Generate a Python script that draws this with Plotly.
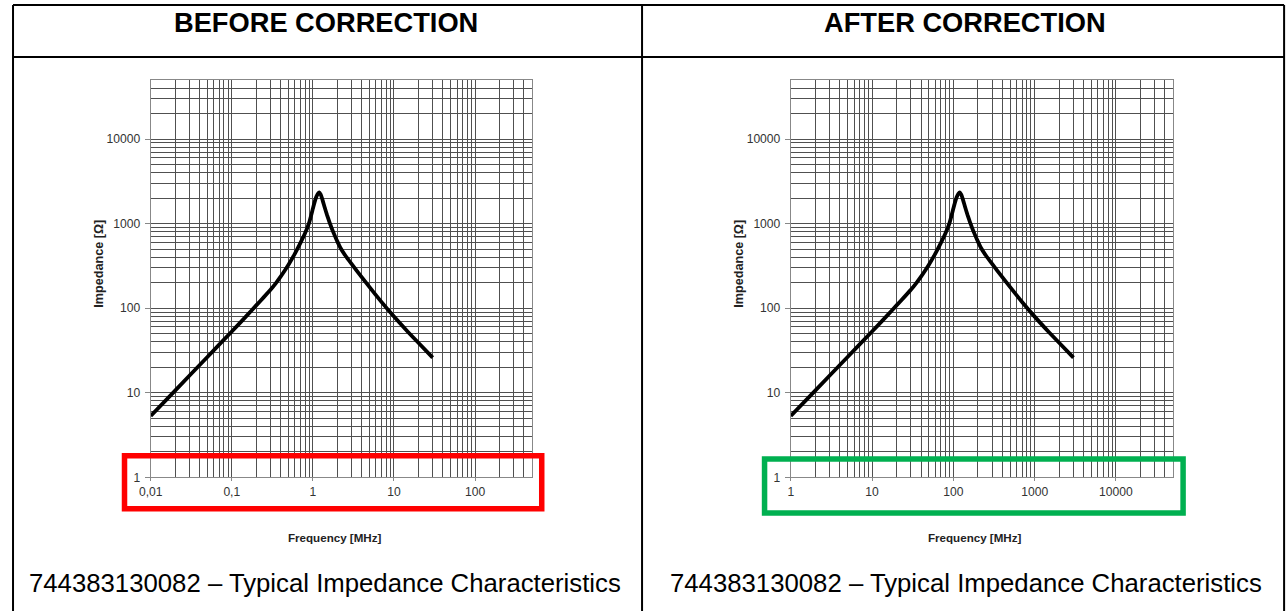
import plotly.graph_objects as go

# ---------------- data ----------------
freq_before = [0.01, 0.02, 0.05, 0.1, 0.15, 0.2, 0.25, 0.3, 0.35, 0.4, 0.45, 0.5, 0.6, 0.7, 0.8, 0.9,
               1.0, 1.05, 1.1, 1.15, 1.2, 1.25, 1.3, 1.4, 1.5, 1.6, 1.7, 1.8, 2.0, 2.2, 2.5, 3.0,
               4.0, 5.0, 7.0, 10, 15, 20, 30]
freq_after = [1, 2, 5, 10, 15, 20, 25, 30, 35, 40, 45, 50, 60, 70, 80, 90,
              100, 105, 110, 115, 120, 125, 130, 140, 150, 160, 170, 180, 200, 220, 250, 300,
              400, 500, 700, 1000, 1500, 2000, 3000]
impedance = [5.3, 10.6, 26.5, 53, 80, 108, 136, 165, 198, 236, 279, 327, 442, 588, 768, 1031,
             1507, 1797, 2066, 2258, 2345, 2211, 1981, 1551, 1252, 1045, 892, 778, 617, 512, 423, 334,
             233, 177.5, 118.6, 79.5, 52, 39, 26]

xticks_before = [0.01, 0.1, 1, 10, 100]
xlabels_before = ["0,01", "0,1", "1", "10", "100"]
xticks_after = [1, 10, 100, 1000, 10000]
xlabels_after = ["1", "10", "100", "1000", "10000"]
yticks = [1, 10, 100, 1000, 10000]
ylabels = ["1", "10", "100", "1000", "10000"]

headers = ["BEFORE CORRECTION", "AFTER CORRECTION"]
caption = "744383130082 \u2013 Typical Impedance Characteristics"
x_title = "Frequency [MHz]"
y_title = "Impedance [\u03a9]"

# ---------------- layout helpers ----------------
W, H = 1287, 611
# the captured page shows the canvas slightly offset/scaled; place items by their target pixel position
OX, SX, SY = 12.0, 0.9906, 0.988

def px(xt):
    return max(0.0008, (xt - OX) / SX / W)

def py(yt):
    return 1 - (yt / SY) / H

def fs(size):
    return size / SX

FONT = "Liberation Sans, Arial, Helvetica, sans-serif"
GRID = "rgb(80,80,80)"

def minor_vals(lo_exp, hi_exp):
    vals = []
    for e in range(lo_exp, hi_exp + 1):
        for m in range(2, 10):
            vals.append(m * 10 ** e)
    return vals

fig = go.Figure()
for xa, ya, fx in [("x", "y", freq_before), ("x2", "y2", freq_after)]:
    fig.add_trace(go.Scatter(x=fx, y=impedance, mode="lines", xaxis=xa, yaxis=ya,
                             line=dict(color="black", width=3.8, shape="spline", smoothing=0.5),
                             showlegend=False, hoverinfo="skip"))

left_dom = [px(150.7), px(531.7)]
right_dom = [px(790.7), px(1172.7)]
ydom = [py(477), py(80)]

def xaxis_cfg(domain, rng, tv, tt, minor, anchor):
    return dict(type="log", domain=domain, range=rng, anchor=anchor,
                tickmode="array", tickvals=tv, ticktext=tt,
                showgrid=True, gridcolor=GRID, gridwidth=1,
                minor=dict(tickmode="array", tickvals=minor, showgrid=True, gridcolor=GRID, gridwidth=1, ticks=""),
                ticks="outside", ticklen=3, tickcolor="#888",
                showline=True, linecolor="#888", linewidth=1, mirror=True,
                tickfont=dict(family=FONT, size=fs(12), color="#333"),
                zeroline=False, fixedrange=True)

def yaxis_cfg(anchor):
    return dict(type="log", domain=ydom, range=[0, 4.69897], anchor=anchor,
                tickmode="array", tickvals=yticks, ticktext=ylabels,
                showgrid=True, gridcolor=GRID, gridwidth=1,
                minor=dict(tickmode="array", tickvals=minor_vals(0, 4), showgrid=True, gridcolor=GRID, gridwidth=1, ticks=""),
                ticks="outside", ticklen=5, tickcolor="#888",
                showline=True, linecolor="#888", linewidth=1, mirror=True,
                tickfont=dict(family=FONT, size=fs(12), color="#333"),
                ticklabelstandoff=2,
                zeroline=False, fixedrange=True)

shapes = []
# table borders
L, R, T, HB, MID, B = 4, 1284, 5, 57, 642, 640
for (x0, y0, x1, y1) in [(L, T, R, T), (L, HB, R, HB), (L, T, L, B), (R, T, R, B), (MID, T, MID, B)]:
    shapes.append(dict(type="line", xref="paper", yref="paper", x0=px(x0), y0=py(y0), x1=px(x1), y1=py(y1),
                       line=dict(color="black", width=2)))
# highlight boxes
shapes.append(dict(type="rect", xref="paper", yref="paper", x0=px(124.5), x1=px(541.7), y0=py(455.5), y1=py(508.5),
                   line=dict(color="#FF0000", width=5.5)))
shapes.append(dict(type="rect", xref="paper", yref="paper", x0=px(764.5), x1=px(1183), y0=py(458.7), y1=py(512.7),
                   line=dict(color="#00B050", width=5.5)))

annotations = []
for cx, text in [(326, headers[0]), (965, headers[1])]:
    annotations.append(dict(text="<b>%s</b>" % text, x=px(cx), y=py(22), xref="paper", yref="paper",
                            showarrow=False, xanchor="center", yanchor="middle",
                            font=dict(family=FONT, size=fs(27), color="black")))
for cx in [325, 966]:
    annotations.append(dict(text=caption, x=px(cx), y=py(583), xref="paper", yref="paper",
                            showarrow=False, xanchor="center", yanchor="middle",
                            font=dict(family=FONT, size=fs(25.5), color="black")))
for cx in [335, 975]:
    annotations.append(dict(text="<b>%s</b>" % x_title, x=px(cx), y=py(537), xref="paper", yref="paper",
                            showarrow=False, xanchor="center", yanchor="middle",
                            font=dict(family=FONT, size=fs(11.5), color="#222")))
for cx in [99.5, 739.5]:
    annotations.append(dict(text="<b>%s</b>" % y_title, x=px(cx), y=py(264), xref="paper", yref="paper",
                            showarrow=False, xanchor="center", yanchor="middle", textangle=-90,
                            font=dict(family=FONT, size=fs(12.5), color="#222")))

fig.update_layout(
    width=W, height=H, margin=dict(l=0, r=0, t=0, b=0),
    paper_bgcolor="white", plot_bgcolor="white",
    xaxis=xaxis_cfg(left_dom, [-2, 2.69897], xticks_before, xlabels_before, minor_vals(-2, 2), "y"),
    yaxis=yaxis_cfg("x"),
    xaxis2=xaxis_cfg(right_dom, [0, 4.69897], xticks_after, xlabels_after, minor_vals(0, 4), "y2"),
    yaxis2=yaxis_cfg("x2"),
    shapes=shapes, annotations=annotations, showlegend=False,
)

fig.write_html("out.html", config={"displayModeBar": False},
               post_script="document.body.style.margin='0px';document.body.style.overflow='hidden';"
                           "document.documentElement.style.overflow='hidden';")
